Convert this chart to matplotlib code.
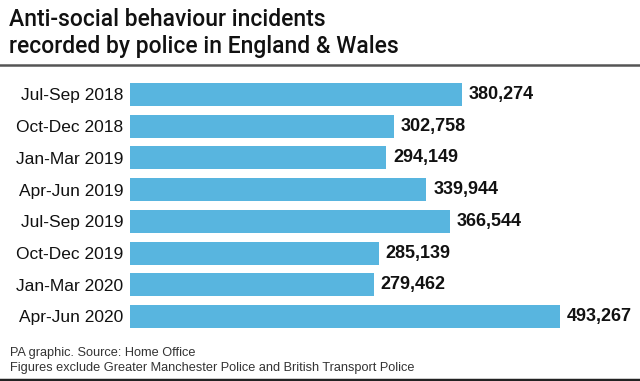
import matplotlib
matplotlib.use("Agg")
import matplotlib.pyplot as plt
from matplotlib.lines import Line2D

plt.rcParams['font.family'] = ['Liberation Sans', 'DejaVu Sans']

periods = ['Jul-Sep 2018', 'Oct-Dec 2018', 'Jan-Mar 2019', 'Apr-Jun 2019',
           'Jul-Sep 2019', 'Oct-Dec 2019', 'Jan-Mar 2020', 'Apr-Jun 2020']
incidents = [380274, 302758, 294149, 339944, 366544, 285139, 279462, 493267]

title = 'Anti-social behaviour incidents\nrecorded by police in England & Wales'
source = 'PA graphic. Source: Home Office'
note = 'Figures exclude Greater Manchester Police and British Transport Police'

bar_color = '#58B5DF'

fig = plt.figure(figsize=(6.4, 3.81), dpi=100)
ax = fig.add_axes([130 / 640, 0.1277, 510 / 640, 0.6659])

ypos = list(range(len(periods)))
ax.barh(ypos, incidents, height=0.725, color=bar_color)
ax.set_ylim(7.5, -0.5)
ax.set_xlim(0, 510 / 0.000872)

for y, v in zip(ypos, incidents):
    ax.annotate(f'{v:,}', xy=(v, y), xytext=(5, 0), textcoords='offset points',
                va='center', ha='left', fontsize=13, fontweight='bold', color='#111111')

ax.set_yticks(ypos)
ax.set_yticklabels(periods, fontsize=12.5, color='#111111')
ax.tick_params(axis='y', length=0, pad=5)
ax.set_xticks([])
for s in ax.spines.values():
    s.set_visible(False)

# title and rules
fig.text(9 / 640, 1 - 8 / 381, title, ha='left', va='top', fontsize=16.5,
         fontweight='medium', family=['Roboto', 'DejaVu Sans'],
         color='#111111', linespacing=1.25)
fig.add_artist(Line2D([0, 1], [1 - 65 / 381] * 2, color='#555555', linewidth=1.8))
fig.text(10 / 640, 1 - 353 / 381, source, ha='left', va='center', fontsize=9.2, color='#333333')
fig.text(10 / 640, 1 - 368 / 381, note, ha='left', va='center', fontsize=9.2, color='#333333')
fig.add_artist(Line2D([0, 1], [1 - 379.5 / 381] * 2, color='#222222', linewidth=2.5))

fig.savefig('out.png', dpi=100)
